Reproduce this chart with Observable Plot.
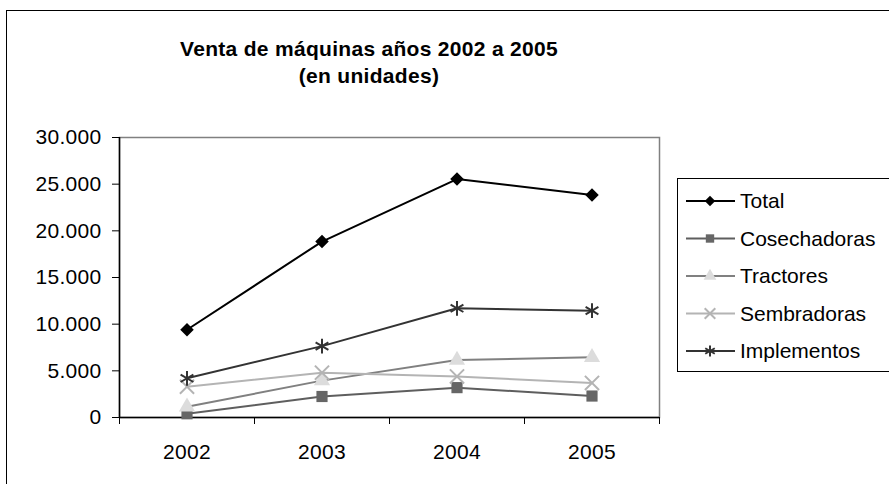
<!DOCTYPE html>
<html>
<head>
<meta charset="utf-8">
<script src="https://cdn.jsdelivr.net/npm/d3@7"></script>
<script src="https://cdn.jsdelivr.net/npm/@observablehq/plot@0.6"></script>
<style>
  html, body { margin: 0; padding: 0; background: #fff; }
  #wrap { position: relative; width: 889px; height: 484px; overflow: hidden; font-family: "Liberation Sans", Arial, sans-serif; }
  #border { position: absolute; left: 6px; top: 10px; width: 950px; height: 600px; border: 1px solid #000; box-sizing: border-box; }
  #title { position: absolute; left: 169px; top: 35px; width: 400px; text-align: center; font-weight: bold; font-size: 21px; line-height: 27px; letter-spacing: 0.3px; color: #000; }
  #chart { position: absolute; left: 0; top: 0; }
  #legend { position: absolute; left: 677px; top: 178px; }
</style>
</head>
<body>
<div id="wrap">
  <div id="border"></div>
  <div id="chart"></div>
  <div id="title">Venta de máquinas años 2002 a 2005<br>(en unidades)</div>
  <svg id="legend" width="230" height="195"></svg>
</div>
<script>
// ---- Data ----
const years = [2002, 2003, 2004, 2005];
const seriesNames = ["Total", "Cosechadoras", "Tractores", "Sembradoras", "Implementos"];
const total        = [9400, 18850, 25550, 23850];
const cosechadoras = [400, 2250, 3200, 2300];
const tractores    = [1150, 3950, 6150, 6450];
const sembradoras  = [3300, 4800, 4400, 3700];
const implementos  = [4200, 7650, 11700, 11450];
const yTicks = [0, 5000, 10000, 15000, 20000, 25000, 30000];

const valuesBySeries = [total, cosechadoras, tractores, sembradoras, implementos];

// ---- Styles ----
const styles = {
  Total:        {line: "#000000", symbol: "square",   rotate: 45, fill: "#000000", stroke: "none",    r: 5.4, legendSize: 55},
  Cosechadoras: {line: "#5e5e5e", symbol: "square",   rotate: 0,  fill: "#666666", stroke: "none",    r: 6.3, legendSize: 70},
  Tractores:    {line: "#808080", symbol: "triangle", rotate: 0,  fill: "#dcdcdc", stroke: "none",    r: 6.0, legendSize: 70},
  Sembradoras:  {line: "#b4b4b4", symbol: "times",    rotate: 0,  fill: "none",    stroke: "#b4b4b4", r: 6.5, legendSize: 75},
  Implementos:  {line: "#333333", symbol: "asterisk", rotate: 0,  fill: "none",    stroke: "#333333", r: 7.0, legendSize: 85}
};

const rows = [];
seriesNames.forEach((s, i) => years.forEach((y, j) => rows.push({series: s, year: y, value: valuesBySeries[i][j]})));

const fmt = d => d3.format(",")(d).replace(/,/g, ".");
const boundaries = d3.range(years.length + 1).map(i => years[0] - 0.5 + i);

const lineMarks = seriesNames.map(s => Plot.line(rows.filter(d => d.series === s), {
  x: "year", y: "value", stroke: styles[s].line, strokeWidth: 2
}));
const dotMarks = seriesNames.map(s => Plot.dot(rows.filter(d => d.series === s), {
  x: "year", y: "value", symbol: () => styles[s].symbol, r: styles[s].r, rotate: styles[s].rotate,
  fill: styles[s].fill, stroke: styles[s].stroke, strokeWidth: 2
}));

const chart = Plot.plot({
  width: 889, height: 484,
  marginLeft: 119, marginRight: 230, marginTop: 137, marginBottom: 67,
  x: {type: "linear", domain: [boundaries[0], boundaries[boundaries.length - 1]], axis: null},
  y: {domain: [0, 30000], axis: null},
  symbol: {type: "identity"},
  style: {fontFamily: "'Liberation Sans', Arial, sans-serif", fontSize: "21px", background: "transparent", color: "#000", letterSpacing: "0.3px"},
  marks: [
    Plot.frame({stroke: "#808080", strokeWidth: 1.5}),
    Plot.axisY(yTicks, {tickSize: 7, tickPadding: 11, tickFormat: fmt, stroke: "#000", fill: "#000", label: null, fontVariant: "normal"}),
    Plot.axisX(boundaries, {tickSize: 7, tickFormat: () => "", stroke: "#000", label: null}),
    Plot.axisX(years, {tickSize: 0, tickPadding: 27, tickFormat: d => String(d), fill: "#000", label: null, fontVariant: "normal"}),
    Plot.ruleY([0], {stroke: "#000", strokeWidth: 1.5}),
    Plot.ruleX([boundaries[0]], {stroke: "#000", strokeWidth: 1.5}),
    ...lineMarks,
    ...dotMarks
  ]
});
document.getElementById("chart").appendChild(chart);

// ---- Legend ----
const leg = d3.select("#legend");
leg.append("rect").attr("x", 0.5).attr("y", 0.5).attr("width", 300).attr("height", 193).attr("fill", "#fff").attr("stroke", "#000").attr("stroke-width", 1);
const symbolTypes = {square: d3.symbolSquare, triangle: d3.symbolTriangle, times: d3.symbolTimes, asterisk: d3.symbolAsterisk};
seriesNames.forEach((s, i) => {
  const st = styles[s];
  const cy = 23 + 37.5 * i;
  const g = leg.append("g");
  g.append("line").attr("x1", 9).attr("x2", 58).attr("y1", cy).attr("y2", cy).attr("stroke", st.line).attr("stroke-width", 2);
  g.append("path")
    .attr("d", d3.symbol(symbolTypes[st.symbol], st.legendSize)())
    .attr("transform", `translate(33,${cy}) rotate(${st.rotate})`)
    .attr("fill", st.fill).attr("stroke", st.stroke).attr("stroke-width", 2);
  g.append("text").attr("x", 63).attr("y", cy).attr("dy", "0.35em")
    .attr("font-family", "'Liberation Sans', Arial, sans-serif").attr("font-size", 21)
    .attr("fill", "#000").text(s);
});
</script>
</body>
</html>
